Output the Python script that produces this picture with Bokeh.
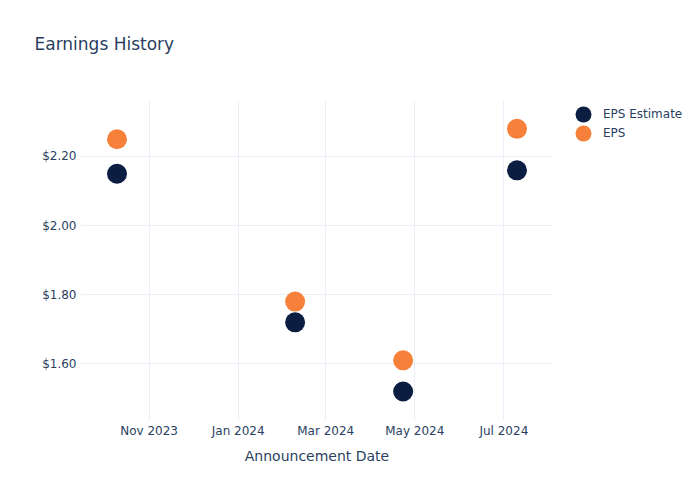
from datetime import datetime
from bokeh.plotting import figure
from bokeh.layouts import row
from bokeh.models import (Range1d, FixedTicker, NumeralTickFormatter, DatetimeTickFormatter,
                          MonthsTicker, Legend, LegendItem, ColumnDataSource, Title)
from bokeh.embed import file_html
from bokeh.resources import INLINE

dates = [datetime(2023, 10, 10), datetime(2024, 2, 9), datetime(2024, 4, 23), datetime(2024, 7, 10)]
eps_estimate = [2.15, 1.72, 1.52, 2.16]
eps_actual = [2.25, 1.78, 1.61, 2.28]
y_ticks = [1.6, 1.8, 2.0, 2.2]
series_names = ["EPS Estimate", "EPS"]
series_colors = ["#0B1E42", "#F7813B"]

FONT = "DejaVu Sans"
TXT = "#2a3f5f"
GRID = "#EBF0F8"

p = figure(frame_width=473, frame_height=320, output_backend="svg", toolbar_location=None,
           x_axis_type="datetime",
           x_range=Range1d(datetime(2023, 9, 15), datetime(2024, 8, 4)),
           y_range=Range1d(1.436, 2.362),
           min_border_left=80, min_border_right=0, min_border_top=100, min_border_bottom=80)
p.title = None
p.outline_line_color = None
p.background_fill_color = "white"
p.border_fill_color = "white"

src_est = ColumnDataSource(dict(x=dates, y=eps_estimate))
src_act = ColumnDataSource(dict(x=dates, y=eps_actual))
sources = [src_est, src_act]
for src, col in zip(sources, series_colors):
    p.scatter("x", "y", source=src, size=20, fill_color=col, line_color=None)

p.xaxis.ticker = MonthsTicker(months=[0, 2, 4, 6, 8, 10])
p.xaxis.formatter = DatetimeTickFormatter(months="%b %Y", days="%b %Y")
p.yaxis.ticker = FixedTicker(ticks=y_ticks)
p.yaxis.formatter = NumeralTickFormatter(format="$0.00")
p.xaxis.axis_label = "Announcement Date"

for ax in (p.xaxis[0], p.yaxis[0]):
    ax.axis_line_color = None
    ax.major_tick_line_color = None
    ax.minor_tick_line_color = None
    ax.major_tick_out = 0
    ax.major_tick_in = 0
    ax.major_label_text_font = FONT
    ax.major_label_text_font_size = "12px"
    ax.major_label_text_color = TXT
    ax.axis_label_text_font = FONT
    ax.axis_label_text_font_size = "14px"
    ax.axis_label_text_color = TXT
    ax.axis_label_text_font_style = "normal"
p.xaxis.major_label_standoff = 3
p.xaxis.axis_label_standoff = 7
p.yaxis.major_label_standoff = 4

p.xgrid.grid_line_color = GRID
p.ygrid.grid_line_color = GRID
p.xgrid.ticker = p.xaxis.ticker
p.ygrid.ticker = p.yaxis.ticker

# spacer (nearest the frame), then the real title above it
p.add_layout(Title(text=" ", text_font=FONT, text_font_size="17px", standoff=20), "above")
p.add_layout(Title(text="Earnings History", text_font=FONT, text_font_size="17px",
                   text_color=TXT, text_font_style="normal", align="left",
                   offset=-46, standoff=10), "above")

# legend panel (its frame is aligned with the main plot's frame: y 100..420)
lp = figure(width=147, height=500, output_backend="svg", toolbar_location=None,
            x_range=Range1d(0, 1), y_range=Range1d(0, 1),
            min_border=0, min_border_left=0, min_border_right=0,
            min_border_top=0, min_border_bottom=0)
lp.title = None
lp.axis.visible = False
lp.grid.visible = False
lp.outline_line_color = None
lp.background_fill_color = "white"
lp.border_fill_color = "white"

for i, (name, col, src) in enumerate(zip(series_names, series_colors, sources)):
    r = lp.scatter("x", "y", source=src, size=20, fill_color=col, line_color=None)
    lg = Legend(items=[LegendItem(label=name, renderers=[r])],
                location=(10, 286 - 19 * i), glyph_width=40, glyph_height=40, label_height=40,
                label_standoff=0, padding=0, margin=0,
                border_line_color=None, background_fill_alpha=0,
                label_text_font=FONT, label_text_font_size="12px", label_text_color=TXT)
    lp.add_layout(lg)

layout = row(p, lp, spacing=0)
open("out.html", "w").write(file_html(layout, INLINE))
